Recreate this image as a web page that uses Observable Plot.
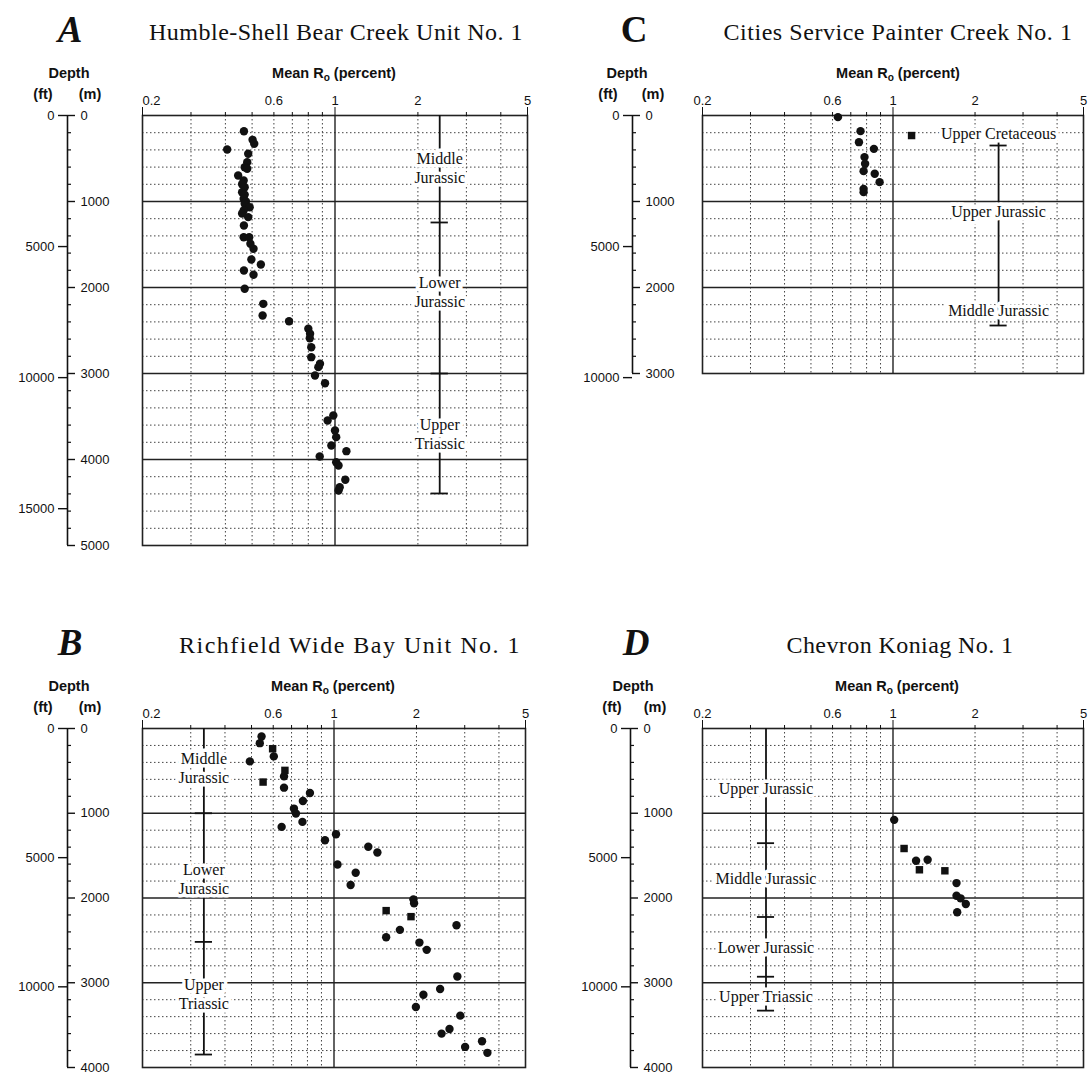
<!DOCTYPE html>
<html><head><meta charset="utf-8">
<script src="https://cdn.jsdelivr.net/npm/d3@7"></script>
<script src="https://cdn.jsdelivr.net/npm/@observablehq/plot@0.6"></script>
<style>
body{margin:0;background:#fff;}
#fig{position:relative;width:1089px;height:1075px;overflow:hidden;background:#fff;font-family:"Liberation Sans",Arial,sans-serif;color:#111;}
.abs{position:absolute;white-space:nowrap;}
.wrap{position:absolute;}
.letter{font-family:"Liberation Serif",serif;font-weight:bold;font-style:italic;}
.letterUp{font-family:"Liberation Serif",serif;font-weight:bold;}
.title{font-family:"Liberation Serif",serif;}
.hdr{font-weight:bold;}
.hdr sub{font-size:0.7em;vertical-align:-0.25em;line-height:0;}
</style></head>
<body><div id="fig"></div>
<script>
// ---------- shared axis values ----------
const xLabelTicks = [0.2, 0.6, 1, 2, 5];
const xMinorTicks = [0.3, 0.4, 0.5, 0.6, 0.7, 0.8, 0.9, 2, 3, 4];
const xMajorTicks = [0.2, 1, 5];
const panelLetters = ["A", "C", "B", "D"];
const panelTitles = ["Humble-Shell Bear Creek Unit No. 1", "Cities Service Painter Creek No. 1", "Richfield Wide Bay Unit No. 1", "Chevron Koniag No. 1"];

// ---------- A: Humble-Shell Bear Creek Unit No. 1 ----------
const ftTicksA = [0, 5000, 10000, 15000];
const mTicksA = [0, 1000, 2000, 3000, 4000, 5000];
const wellA = [[0.467,183],[0.502,283],[0.509,329],[0.406,395],[0.484,445],[0.48,543],[0.47,601],[0.48,620],[0.445,698],[0.466,756],[0.46,800],[0.47,834],[0.46,892],[0.47,920],[0.466,969],[0.475,1000],[0.47,1027],[0.49,1066],[0.466,1105],[0.46,1140],[0.484,1182],[0.467,1279],[0.466,1415],[0.488,1415],[0.493,1492],[0.506,1550],[0.497,1674],[0.538,1733],[0.467,1802],[0.506,1852],[0.47,2015],[0.549,2190],[0.546,2326],[0.681,2392],[0.80,2480],[0.812,2538],[0.81,2590],[0.82,2694],[0.82,2810],[0.882,2887],[0.87,2926],[0.846,3023],[0.92,3113],[0.986,3488],[0.94,3547],[1.0,3663],[1.01,3740],[0.97,3837],[1.1,3903],[0.88,3965],[1.01,4031],[1.03,4070],[1.09,4236],[1.04,4322],[1.03,4360]];
const wellASquares = [];
const strataA = ["Middle\nJurassic", "Lower\nJurassic", "Upper\nTriassic"];
const strataADepth = [605, 2047, 3700];
const strataABar = {ro: 2.4, top: 0, base: 4395};
const strataACross = [1244, 3000, 4395];

// ---------- C: Cities Service Painter Creek No. 1 ----------
const ftTicksC = [0, 5000, 10000];
const mTicksC = [0, 1000, 2000, 3000];
const wellC = [[0.628,19],[0.76,182],[0.75,310],[0.851,388],[0.786,484],[0.79,562],[0.78,647],[0.857,678],[0.893,775],[0.78,853],[0.78,891]];
const wellCSquares = [[1.17,233]];
const strataC = ["Upper Cretaceous", "Upper Jurassic", "Middle Jurassic"];
const strataCDepth = [198, 1105, 2256];
const strataCBar = {ro: 2.44, top: 198, base: 2442};
const strataCCross = [349, 2442];

// ---------- B: Richfield Wide Bay Unit No. 1 ----------
const ftTicksB = [0, 5000, 10000];
const mTicksB = [0, 1000, 2000, 3000, 4000];
const wellB = [[0.544,94],[0.536,173],[0.603,329],[0.493,388],[0.657,565],[0.657,698],[0.817,761],[0.77,855],[0.714,945],[0.726,1004],[0.767,1102],[0.644,1161],[1.017,1247],[0.927,1318],[1.334,1396],[1.44,1463],[1.03,1604],[1.2,1702],[1.15,1847],[1.949,2016],[1.96,2063],[2.8,2321],[1.74,2376],[1.55,2463],[2.05,2526],[2.18,2612],[2.82,2926],[2.44,3074],[2.12,3141],[1.99,3286],[2.89,3388],[2.64,3545],[2.47,3600],[3.47,3690],[3.01,3757],[3.63,3827]];
const wellBSquares = [[0.597,239],[0.662,494],[0.551,632],[1.55,2149],[1.91,2220]];
const strataB = ["Middle\nJurassic", "Lower\nJurassic", "Upper\nTriassic"];
const strataBDepth = [459, 1765, 3129];
const strataBBar = {ro: 0.335, top: 0, base: 3847};
const strataBCross = [1000, 2518, 3847];

// ---------- D: Chevron Koniag No. 1 ----------
const ftTicksD = [0, 5000, 10000];
const mTicksD = [0, 1000, 2000, 3000, 4000];
const wellD = [[1.01,1078],[1.215,1561],[1.34,1549],[1.71,1824],[1.71,1973],[1.77,2004],[1.85,2071],[1.72,2169]];
const wellDSquares = [[1.098,1416],[1.25,1667],[1.55,1679]];
const strataD = ["Upper Jurassic", "Middle Jurassic", "Lower Jurassic", "Upper Triassic"];
const strataDDepth = [706, 1765, 2576, 3153];
const strataDBar = {ro: 0.342, top: 0, base: 3329};
const strataDCross = [1353, 2224, 2929, 3329];

const M2FT = 0.3048;
const fig = document.getElementById("fig");

function makePanel(p) {
  const dxL = p.axisLine - (p.left + p.marginLeft);
  const x0 = 0.2;
  const dotY = d3.range(200, p.maxDepth, 200).filter(d => d % 1000 !== 0);
  const solidY = d3.range(1000, p.maxDepth, 1000);
  const ftM = p.ftTicks.map(f => f * M2FT);
  const cap = 1.075;
  const chart = Plot.plot({
    width: p.width, height: p.height,
    marginLeft: p.marginLeft, marginRight: p.marginRight, marginTop: p.marginTop, marginBottom: p.marginBottom,
    x: {type: "log", domain: [0.2, 5], axis: null},
    y: {domain: [0, p.maxDepth], reverse: true, axis: null},
    style: {fontFamily: "Liberation Sans, Arial, sans-serif", fontSize: "13px", color: "#111", background: "transparent", overflow: "visible"},
    marks: [
      Plot.ruleY(dotY, {stroke: "#444", strokeWidth: 1, strokeDasharray: "1.5,2.5"}),
      Plot.ruleX(xMinorTicks, {stroke: "#444", strokeWidth: 1, strokeDasharray: "1.5,2.5"}),
      Plot.ruleY(solidY, {stroke: "#222", strokeWidth: 1.4}),
      Plot.ruleX([1], {stroke: "#222", strokeWidth: 1.4}),
      Plot.frame({stroke: "#222", strokeWidth: 1.6}),
      Plot.axisX({anchor: "top", ticks: xMinorTicks, tickSize: 4, tickFormat: () => "", label: null}),
      Plot.axisX({anchor: "top", ticks: xMajorTicks, tickSize: 9, tickFormat: () => "", label: null}),
      Plot.axisX({anchor: "top", ticks: xLabelTicks.slice(0, 1), tickSize: 0, tickPadding: 11, tickFormat: d => String(d), label: null, textAnchor: p.firstStart ? "start" : "middle"}),
      Plot.axisX({anchor: "top", ticks: xLabelTicks.slice(1), tickSize: 0, tickPadding: 11, tickFormat: d => String(d), label: null}),
      // depth ruler
      Plot.ruleX([x0], {y1: 0, y2: p.maxDepth, dx: dxL, stroke: "#111", strokeWidth: 1.6}),
      Plot.ruleY(ftM, {x1: x0, x2: x0, insetLeft: -9, dx: dxL, stroke: "#111", strokeWidth: 1.4}),
      Plot.text(p.ftTicks, {x: x0, y: d => d * M2FT, text: d => String(d), textAnchor: "end", dx: dxL - 13, fontSize: 13}),
      Plot.ruleY(p.mTicks, {x1: x0, x2: x0, insetRight: -8, dx: dxL, stroke: "#111", strokeWidth: 1.4}),
      Plot.ruleY(dotY, {x1: x0, x2: x0, insetRight: -4, dx: dxL, stroke: "#111", strokeWidth: 1.2}),
      Plot.text(p.mTicks, {x: x0, y: d => d, text: d => String(d), textAnchor: "start", dx: dxL + 13, fontSize: 13}),
      // stratigraphy
      Plot.ruleX([p.bar.ro], {y1: p.bar.top, y2: p.bar.base, stroke: "#111", strokeWidth: 1.8}),
      Plot.ruleY(p.cross, {x1: p.bar.ro / cap, x2: p.bar.ro * cap, stroke: "#111", strokeWidth: 1.8}),
      Plot.text(p.strata, {x: p.bar.ro, y: (d, i) => p.strataDepth[i], text: d => d, fontFamily: "Liberation Serif, serif", fontSize: 16, lineHeight: 1.2, fill: "#111", stroke: "white", strokeWidth: 7, paintOrder: "stroke"}),
      // samples
      Plot.dot(p.circles, {x: d => d[0], y: d => d[1], r: 4.2, fill: "#111", stroke: "none"}),
      Plot.dot(p.squares, {x: d => d[0], y: d => d[1], r: 4.2, symbol: "square", fill: "#111", stroke: "none"})
    ]
  });
  const w = document.createElement("div");
  w.className = "wrap";
  w.style.left = p.left + "px"; w.style.top = p.top + "px"; w.style.width = p.width + "px";
  w.appendChild(chart);
  fig.appendChild(w);
}

function addText(html, cls, x, baseline, size, targetWidth) {
  const el = document.createElement("div");
  el.className = "abs " + cls;
  el.style.fontSize = size + "px";
  el.style.lineHeight = size + "px";
  el.style.left = x + "px";
  el.style.top = (baseline - 0.84 * size) + "px";
  el.style.transform = "translateX(-50%)";
  el.innerHTML = html;
  fig.appendChild(el);
  if (targetWidth) {
    const w = el.getBoundingClientRect().width;
    const n = el.textContent.length;
    el.style.letterSpacing = ((targetWidth - w) / n) + "px";
  }
}

const panels = [
  {left: 0, top: 80, width: 545, height: 477, marginLeft: 142, marginRight: 18, marginTop: 35, marginBottom: 12, axisLine: 67, maxDepth: 5000, firstStart: true,
   ftTicks: ftTicksA, mTicks: mTicksA, circles: wellA, squares: wellASquares, strata: strataA, strataDepth: strataADepth, bar: strataABar, cross: strataACross,
   hdr: {letter: 70, title: 336, titleW: 374, depth: 69, ft: 43, m: 90, mean: 334, base: 115}, letterCls: "letter"},
  {left: 560, top: 80, width: 527, height: 305, marginLeft: 142, marginRight: 4, marginTop: 35, marginBottom: 12, axisLine: 632, maxDepth: 3000, firstStart: false,
   ftTicks: ftTicksC, mTicks: mTicksC, circles: wellC, squares: wellCSquares, strata: strataC, strataDepth: strataCDepth, bar: strataCBar, cross: strataCCross,
   hdr: {letter: 634, title: 898, titleW: 349, depth: 627, ft: 608, m: 653, mean: 898, base: 115}, letterCls: "letterUp"},
  {left: 0, top: 693, width: 545, height: 382, marginLeft: 142, marginRight: 20, marginTop: 35, marginBottom: 8, axisLine: 67, maxDepth: 4000, firstStart: true,
   ftTicks: ftTicksB, mTicks: mTicksB, circles: wellB, squares: wellBSquares, strata: strataB, strataDepth: strataBDepth, bar: strataBBar, cross: strataBCross,
   hdr: {letter: 70, title: 350, titleW: 342, depth: 69, ft: 43, m: 90, mean: 333, base: 728}, letterCls: "letter"},
  {left: 560, top: 693, width: 527, height: 382, marginLeft: 142, marginRight: 4, marginTop: 35, marginBottom: 8, axisLine: 630, maxDepth: 4000, firstStart: false,
   ftTicks: ftTicksD, mTicks: mTicksD, circles: wellD, squares: wellDSquares, strata: strataD, strataDepth: strataDDepth, bar: strataDBar, cross: strataDCross,
   hdr: {letter: 636, title: 900, titleW: 227, depth: 633, ft: 612, m: 655, mean: 897, base: 728}, letterCls: "letter"}
];

panels.forEach(makePanel);
panels.forEach((p, i) => {
  const h = p.hdr, T = h.base;
  addText(panelLetters[i], p.letterCls, h.letter, T - 73, 37);
  addText(panelTitles[i], "title", h.title, T - 75, 24, h.titleW);
  addText("Depth", "hdr", h.depth, T - 37, 14.5);
  addText("(ft)", "hdr", h.ft, T - 16, 14.5);
  addText("(m)", "hdr", h.m, T - 16, 14.5);
  addText("Mean R<sub>o</sub> (percent)", "hdr", h.mean, T - 37, 14.5);
});
</script></body></html>
